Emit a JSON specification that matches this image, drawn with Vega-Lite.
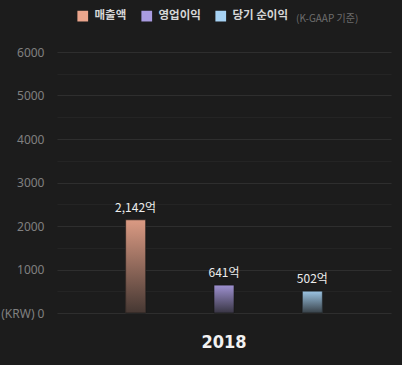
{
  "$schema": "https://vega.github.io/schema/vega-lite/v6.json",
  "autosize": "none",
  "width": 334,
  "height": 261,
  "padding": {"left": 57, "top": 52, "right": 11, "bottom": 52},
  "background": "#1c1c1c",
  "title": {
    "text": "(K-GAAP 기준)",
    "anchor": "start",
    "frame": "group",
    "orient": "top",
    "dx": 239,
    "offset": 0,
    "dy": 19,
    "baseline": "middle",
    "font": "Noto Sans CJK KR",
    "fontSize": 10,
    "fontWeight": "normal",
    "color": "#6e6e6e"
  },
  "config": {
    "view": {"stroke": null},
    "font": "Noto Sans CJK KR"
  },
  "data": {
    "values": [
      {"year": "2018", "category": "매출액", "value": 2142},
      {"year": "2018", "category": "영업이익", "value": 641},
      {"year": "2018", "category": "당기 순이익", "value": 502}
    ]
  },
  "transform": [
    {"calculate": "format(datum.value, ',') + '억'", "as": "label"}
  ],
  "encoding": {
    "x": {
      "field": "year",
      "type": "nominal",
      "scale": {"paddingInner": 0, "paddingOuter": 0},
      "axis": {
        "title": null,
        "ticks": false,
        "domain": false,
        "labelAngle": 0,
        "labelPadding": 20,
        "labelFont": "DejaVu Sans Condensed, Roboto, sans-serif",
        "labelFontSize": 18,
        "labelFontWeight": "bold",
        "labelColor": "#f2f2f2",
        "grid": false
      }
    },
    "xOffset": {
      "field": "category",
      "type": "nominal",
      "sort": ["매출액", "영업이익", "당기 순이익"],
      "scale": {"paddingInner": 0, "paddingOuter": 0.39}
    },
    "y": {
      "field": "value",
      "type": "quantitative",
      "scale": {"domain": [0, 6000], "nice": false},
      "axis": {
        "title": null,
        "values": [0, 500, 1000, 1500, 2000, 2500, 3000, 3500, 4000, 4500, 5000, 5500, 6000],
        "labelExpr": "datum.value % 1000 !== 0 ? '' : (datum.value === 0 ? '(KRW) 0' : datum.value + '')",
        "ticks": false,
        "domain": false,
        "labelPadding": 13,
        "labelFont": "Noto Sans",
        "labelFontSize": 12,
        "labelColor": "#808080",
        "grid": true,
        "gridColor": {"condition": {"test": "datum.value % 1000 === 0", "value": "#2e2e2e"}, "value": "#242424"},
        "gridWidth": 1
      }
    }
  },
  "layer": [
    {
      "mark": {"type": "bar", "width": 20},
      "encoding": {
        "color": {
          "field": "category",
          "type": "nominal",
          "scale": {
            "domain": ["매출액", "영업이익", "당기 순이익"],
            "range": ["#eba58c", "#a99be0", "#a6d2f4"]
          },
          "legend": {
            "orient": "none",
            "direction": "horizontal",
            "legendX": 20,
            "legendY": -42,
            "title": null,
            "symbolType": "square",
            "symbolSize": 115,
            "symbolStrokeWidth": 0,
            "symbolOpacity": 1,
            "labelFont": "Noto Sans CJK KR",
            "labelFontSize": 11.5,
            "labelFontWeight": "bold",
            "labelColor": "#d6d6d6",
            "labelOffset": 6,
            "columnPadding": 14,
            "padding": 0
          }
        }
      }
    },
    {
      "mark": {
        "type": "bar",
        "width": 20,
        "stroke": "#161616",
        "strokeWidth": 1,
        "strokeOpacity": 0.6,
        "color": {
          "gradient": "linear",
          "x1": 0, "y1": 0, "x2": 0, "y2": 1,
          "stops": [
            {"offset": 0, "color": "rgba(28,28,28,0.08)"},
            {"offset": 1, "color": "rgba(28,28,28,0.8)"}
          ]
        }
      }
    },
    {
      "mark": {
        "type": "text",
        "baseline": "bottom",
        "dy": -5,
        "font": "Noto Sans CJK KR",
        "fontSize": 12,
        "fontWeight": "normal",
        "color": "#ececec"
      },
      "encoding": {
        "text": {"field": "label", "type": "nominal"}
      }
    }
  ]
}
